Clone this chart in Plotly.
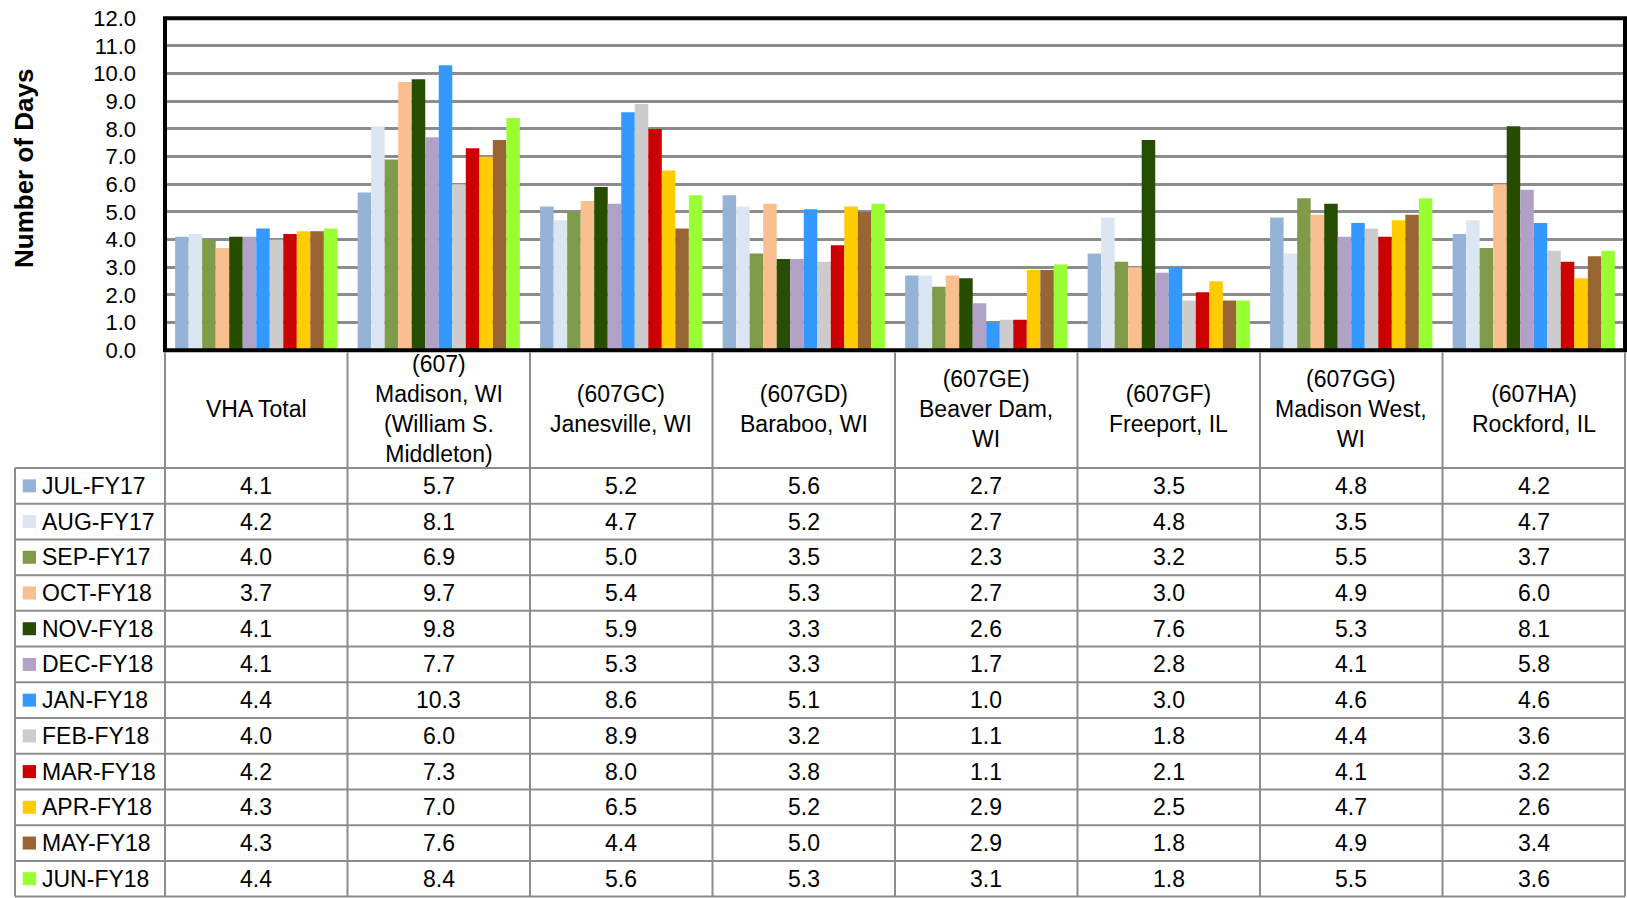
import plotly.graph_objects as go

W, H = 1627, 898

# ---------------- data ----------------
cat_keys = ["VHA Total", "(607) Madison", "(607GC) Janesville", "(607GD) Baraboo",
            "(607GE) Beaver Dam", "(607GF) Freeport", "(607GG) Madison West", "(607HA) Rockford"]
cat_labels = [
    "VHA Total",
    "(607)<br>Madison, WI<br>(William S.<br>Middleton)",
    "(607GC)<br>Janesville, WI",
    "(607GD)<br>Baraboo, WI",
    "(607GE)<br>Beaver Dam,<br>WI",
    "(607GF)<br>Freeport, IL",
    "(607GG)<br>Madison West,<br>WI",
    "(607HA)<br>Rockford, IL",
]
months = ["JUL-FY17", "AUG-FY17", "SEP-FY17", "OCT-FY18", "NOV-FY18", "DEC-FY18",
          "JAN-FY18", "FEB-FY18", "MAR-FY18", "APR-FY18", "MAY-FY18", "JUN-FY18"]
colors = ["#95B3D7", "#DCE6F2", "#7F9A48", "#F9BF8F", "#264D00", "#B2A1C7",
          "#3399FF", "#CCCCCC", "#CC0000", "#FFCC00", "#996633", "#99FF33"]

jul = [4.1, 5.7, 5.2, 5.6, 2.7, 3.5, 4.8, 4.2]
aug = [4.2, 8.1, 4.7, 5.2, 2.7, 4.8, 3.5, 4.7]
sep = [4.0, 6.9, 5.0, 3.5, 2.3, 3.2, 5.5, 3.7]
oct_ = [3.7, 9.7, 5.4, 5.3, 2.7, 3.0, 4.9, 6.0]
nov = [4.1, 9.8, 5.9, 3.3, 2.6, 7.6, 5.3, 8.1]
dec = [4.1, 7.7, 5.3, 3.3, 1.7, 2.8, 4.1, 5.8]
jan = [4.4, 10.3, 8.6, 5.1, 1.0, 3.0, 4.6, 4.6]
feb = [4.0, 6.0, 8.9, 3.2, 1.1, 1.8, 4.4, 3.6]
mar = [4.2, 7.3, 8.0, 3.8, 1.1, 2.1, 4.1, 3.2]
apr = [4.3, 7.0, 6.5, 5.2, 2.9, 2.5, 4.7, 2.6]
may = [4.3, 7.6, 4.4, 5.0, 2.9, 1.8, 4.9, 3.4]
jun = [4.4, 8.4, 5.6, 5.3, 3.1, 1.8, 5.5, 3.6]
series = [jul, aug, sep, oct_, nov, dec, jan, feb, mar, apr, may, jun]

y_ticks = [0, 1, 2, 3, 4, 5, 6, 7, 8, 9, 10, 11, 12]

# ---------------- layout helpers (pixels -> paper) ----------------
def fx(p):
    return p / W

def fy(p):
    return 1 - p / H

PLOT_L, PLOT_R = 165.0, 1625.0
PLOT_T, PLOT_B = 18.3, 350.3
HEAD_B = 468.0
TAB_B = 896.6
ROW_H = (TAB_B - HEAD_B) / 12
COL_W = (PLOT_R - PLOT_L) / 8
LEG_L = 15.0
GRID = "#8c8c8c"
FONT = "Liberation Sans, Arial, sans-serif"
TSIZE = 23

fig = go.Figure()
for name, color, vals in zip(months, colors, series):
    fig.add_trace(go.Bar(x=cat_keys, y=vals, name=name,
                         marker=dict(color=color, line=dict(width=0))))

shapes = []
annotations = []

# plot border
shapes.append(dict(type="rect", xref="x domain", yref="y domain", x0=0, x1=1, y0=0, y1=1,
                   line=dict(color="black", width=4), layer="above"))

# table vertical lines
for i in range(9):
    xp = PLOT_L + i * COL_W
    shapes.append(dict(type="line", xref="paper", yref="paper",
                       x0=fx(xp), x1=fx(xp), y0=fy(PLOT_B + 2), y1=fy(TAB_B),
                       line=dict(color=GRID, width=2)))
shapes.append(dict(type="line", xref="paper", yref="paper",
                   x0=fx(LEG_L), x1=fx(LEG_L), y0=fy(HEAD_B), y1=fy(TAB_B),
                   line=dict(color=GRID, width=2)))
# table horizontal lines
for k in range(13):
    yp = HEAD_B + k * ROW_H
    shapes.append(dict(type="line", xref="paper", yref="paper",
                       x0=fx(LEG_L), x1=fx(PLOT_R), y0=fy(yp), y1=fy(yp),
                       line=dict(color=GRID, width=2)))

# header labels
for key, lab in zip(cat_keys, cat_labels):
    annotations.append(dict(x=key, xref="x", y=fy((PLOT_B + HEAD_B) / 2), yref="paper",
                            text=lab, showarrow=False, xanchor="center", yanchor="middle",
                            font=dict(family=FONT, size=TSIZE, color="black")))

# rows
for r, (name, color, vals) in enumerate(zip(months, colors, series)):
    yc = HEAD_B + (r + 0.5) * ROW_H
    shapes.append(dict(type="rect", xref="paper", yref="paper",
                       x0=fx(22.7), x1=fx(36), y0=fy(yc - 6.5), y1=fy(yc + 6.5),
                       fillcolor=color, line=dict(width=0)))
    annotations.append(dict(x=fx(40), xref="paper", y=fy(yc), yref="paper",
                            text=name, showarrow=False, xanchor="left", yanchor="middle",
                            font=dict(family=FONT, size=TSIZE, color="black")))
    for key, v in zip(cat_keys, vals):
        annotations.append(dict(x=key, xref="x", y=fy(yc), yref="paper",
                                text=f"{v:.1f}", showarrow=False, xanchor="center",
                                yanchor="middle",
                                font=dict(family=FONT, size=TSIZE, color="black")))

# y axis title
annotations.append(dict(x=fx(24), xref="paper", y=fy(169), yref="paper",
                        text="<b>Number of Days</b>", showarrow=False, textangle=-90,
                        xanchor="center", yanchor="middle",
                        font=dict(family=FONT, size=26, color="black")))

fig.update_layout(
    width=W, height=H, autosize=False,
    margin=dict(l=0, r=0, t=0, b=0, pad=0),
    paper_bgcolor="white", plot_bgcolor="white",
    barmode="group", bargap=0.111, bargroupgap=0,
    showlegend=False,
    shapes=shapes, annotations=annotations,
    font=dict(family=FONT, color="black"),
    xaxis=dict(type="category", range=[-0.5, 7.5], automargin=False,
               domain=[fx(PLOT_L), fx(PLOT_R)], showticklabels=False, ticks="",
               showgrid=False, zeroline=False, showline=False, fixedrange=True),
    yaxis=dict(domain=[fy(PLOT_B), fy(PLOT_T)], range=[0, 12], tickvals=y_ticks,
               automargin=False,
               tickformat=".1f", ticks="", ticklabelstandoff=28,
               tickfont=dict(family=FONT, size=22, color="black"),
               showgrid=True, gridcolor=GRID, gridwidth=2.5,
               zeroline=False, showline=False),
)

fig.write_html("out.html", config={"displayModeBar": False},
               post_script="document.body.style.margin='0';document.body.style.overflow='hidden';")
